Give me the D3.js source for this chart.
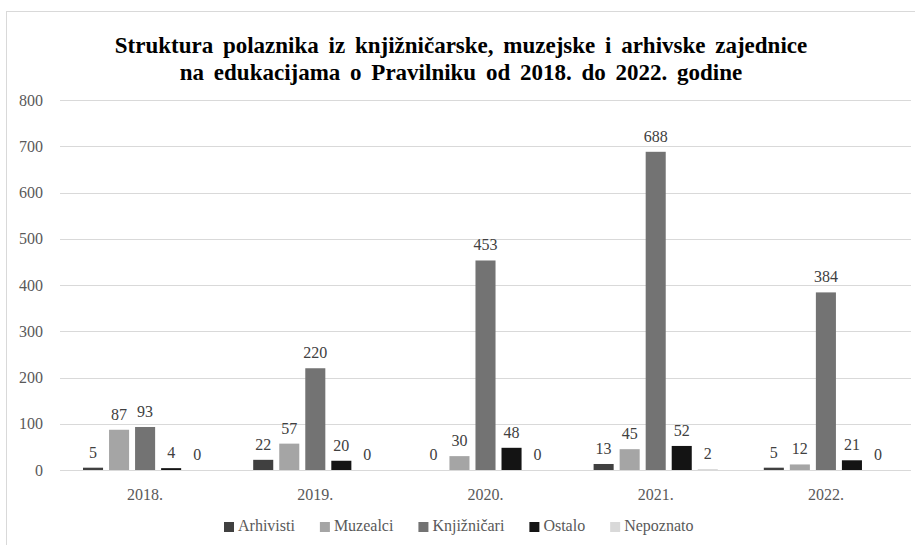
<!DOCTYPE html>
<html><head><meta charset="utf-8">
<script src="https://cdn.jsdelivr.net/npm/d3@7"></script>
</head><body style="margin:0">
<svg id="c" width="915" height="545"></svg>
<script>
const years = ["2018.", "2019.", "2020.", "2021.", "2022."];
const seriesNames = ["Arhivisti", "Muzealci", "Knjižničari", "Ostalo", "Nepoznato"];
const arhivisti = [5, 22, 0, 13, 5];
const muzealci = [87, 57, 30, 45, 12];
const knjiznicari = [93, 220, 453, 688, 384];
const ostalo = [4, 20, 48, 52, 21];
const nepoznato = [0, 0, 0, 2, 0];
const yTicks = [0, 100, 200, 300, 400, 500, 600, 700, 800];
const colors = ["#404040", "#a5a5a5", "#737373", "#141414", "#d9d9d9"];
const titleLines = ["Struktura polaznika iz knjižničarske, muzejske i arhivske zajednice",
                    "na edukacijama o Pravilniku od 2018. do 2022. godine"];

const values = [arhivisti, muzealci, knjiznicari, ostalo, nepoznato];
const svg = d3.select("#c");
const font = "Liberation Serif";

svg.append("rect").attr("x", 6.5).attr("y", 11.5).attr("width", 915).attr("height", 540)
  .attr("fill", "#fff").attr("stroke", "#d9d9d9");

const plotL = 60, plotR = 911, plotT = 100, plotB = 470;
const x0 = d3.scaleBand().domain(years).range([plotL, plotR]).padding(0);
const x1 = d3.scaleBand().domain(seriesNames).range([23, x0.bandwidth() - 23]).paddingInner(0.23).paddingOuter(0);
const y = d3.scaleLinear().domain([0, 800]).range([plotB, plotT]);

// title
svg.append("g").selectAll("text").data(titleLines).join("text")
  .attr("x", 461).attr("y", (d, i) => 53 + i * 27)
  .attr("text-anchor", "middle").attr("font-family", font).attr("font-size", 23)
  .attr("font-weight", "bold").attr("fill", "#000").attr("word-spacing", 4).text(d => d);

// gridlines
svg.append("g").selectAll("line").data(yTicks).join("line")
  .attr("x1", plotL).attr("x2", plotR)
  .attr("y1", d => Math.round(y(d)) + 0.5).attr("y2", d => Math.round(y(d)) + 0.5)
  .attr("stroke", "#d9d9d9").attr("stroke-width", 1);

// y labels
svg.append("g").selectAll("text").data(yTicks).join("text")
  .attr("x", 43).attr("y", d => y(d) + 5.5)
  .attr("text-anchor", "end").attr("font-family", font).attr("font-size", 16)
  .attr("fill", "#595959").text(d => d);

// bars
const groups = svg.append("g").selectAll("g").data(years).join("g")
  .attr("transform", d => `translate(${x0(d)},0)`);
groups.each(function(yr, i) {
  const g = d3.select(this);
  seriesNames.forEach((s, j) => {
    const v = values[j][i];
    g.append("rect").attr("x", x1(s)).attr("width", x1.bandwidth())
      .attr("y", y(v)).attr("height", plotB - y(v)).attr("fill", colors[j]);
    g.append("text").attr("x", x1(s) + x1.bandwidth() / 2).attr("y", y(v) - 10)
      .attr("text-anchor", "middle").attr("font-family", font).attr("font-size", 16)
      .attr("fill", "#404040").text(v);
  });
});

// x labels
svg.append("g").selectAll("text").data(years).join("text")
  .attr("x", d => x0(d) + x0.bandwidth() / 2).attr("y", 500)
  .attr("text-anchor", "middle").attr("font-family", font).attr("font-size", 16)
  .attr("fill", "#595959").text(d => d);

// legend
const leg = svg.append("g");
let lx = 224;
seriesNames.forEach((s, j) => {
  leg.append("rect").attr("x", lx).attr("y", 522).attr("width", 10).attr("height", 10).attr("fill", colors[j]);
  const t = leg.append("text").attr("x", lx + 14).attr("y", 531)
    .attr("font-family", font).attr("font-size", 16).attr("fill", "#595959").text(s);
  lx += 14 + t.node().getComputedTextLength() + 25;
});
</script>
</body></html>
